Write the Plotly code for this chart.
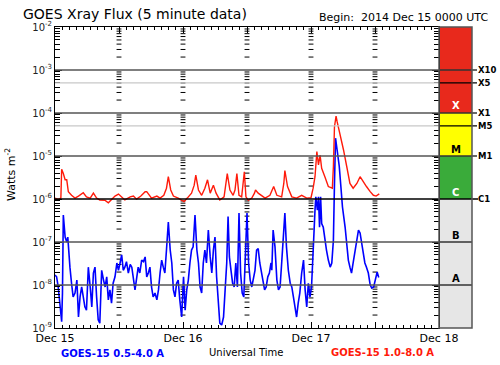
import math
import plotly.graph_objects as go

# ---------------- data (hours since 2014 Dec 15 00:00 UTC, flux in W m^-2) ----------------
long_hours = [0, 0.6, 1.1, 1.25, 1.56, 1.9, 2.2, 2.5, 3.1, 3.75, 4.4, 5.3, 5.9, 6.6, 7.2, 7.8, 8.4, 9.4,
              10.0, 10.6, 11.25, 11.9, 12.5, 13.1, 14.1, 14.7, 15.3, 16.1, 16.9, 17.2, 18.1, 19.1, 19.7,
              20.4, 20.9, 21.25, 21.7, 22.2, 23.1, 23.75, 24.2, 24.8, 25.6, 26.1, 26.4, 26.9, 27.5, 28.1,
              28.6, 29.1, 29.7, 30.2, 30.9, 31.7, 32.1, 32.3, 32.8, 33.4, 33.75, 34.1, 34.5, 35.0, 35.5,
              35.8, 36.25, 36.9, 37.4, 37.6, 38.1, 38.6, 39.4, 40.3, 41.0, 41.6, 42.5, 42.9, 43.1, 43.6,
              44.4, 45.3, 46.25, 47.2, 48.0, 48.4, 48.75, 49.1, 49.4, 49.7, 50.0, 50.6, 51.25, 52.0, 52.2,
              52.4, 52.7, 52.9, 53.4, 54.1, 54.7, 55.3, 55.9, 56.6, 57.2, 57.8, 58.4, 59.1, 59.7, 60.2, 60.8]
long_flux = [1.05e-6, 9.8e-7, 1.05e-6, 4.9e-6, 3.9e-6, 2.8e-6, 2.8e-6, 1.48e-6, 1.22e-6, 1.05e-6, 1.17e-6,
             1.4e-6, 1.12e-6, 1.05e-6, 1.37e-6, 1.05e-6, 9.5e-7, 9.3e-7, 8.2e-7, 9.5e-7, 1.17e-6, 1.3e-6,
             1.12e-6, 9.5e-7, 1.12e-6, 1.17e-6, 9.9e-7, 1.17e-6, 1.48e-6, 1.48e-6, 1.05e-6, 1.17e-6, 1.05e-6,
             1.22e-6, 1.78e-6, 3.3e-6, 1.62e-6, 1.17e-6, 1.05e-6, 9.3e-7, 8.7e-7, 1.05e-6, 1.37e-6, 2.1e-6,
             3.6e-6, 1.62e-6, 1.22e-6, 1.78e-6, 2.8e-6, 1.37e-6, 2.1e-6, 1.37e-6, 9.5e-7, 1.12e-6, 2.3e-6,
             3.9e-6, 1.62e-6, 1.22e-6, 1.62e-6, 3.9e-6, 1.22e-6, 1.12e-6, 4.3e-6, 1.12e-6, 9.3e-7, 1.05e-6,
             1.37e-6, 1.62e-6, 1.37e-6, 1.22e-6, 1.05e-6, 1.22e-6, 1.95e-6, 1.22e-6, 1.12e-6, 2.3e-6, 4.6e-6,
             1.95e-6, 1.12e-6, 1.05e-6, 1.22e-6, 1.05e-6, 1.07e-6, 1.78e-6, 3.3e-6, 1.27e-5, 6.2e-6, 1.05e-5,
             5.2e-6, 3.3e-6, 1.95e-6, 1.78e-6, 5.7e-6, 4.8e-5, 8.5e-5, 6.3e-5, 3.4e-5, 1.38e-5, 5.7e-6,
             2.3e-6, 1.78e-6, 2.3e-6, 3.3e-6, 2.5e-6, 1.95e-6, 1.48e-6, 1.22e-6, 1.17e-6, 1.32e-6]

short_hours = [0, 0.3, 0.6, 0.95, 1.25, 1.4, 1.56, 1.9, 2.2, 2.4, 2.6, 2.8, 3.1, 3.4, 3.75, 4.1, 4.4, 4.7,
               5.0, 5.3, 5.6, 5.9, 6.25, 6.6, 6.9, 7.2, 7.5, 7.8, 8.1, 8.4, 8.75, 9.1, 9.4, 9.7, 10.0, 10.3,
               10.6, 10.9, 11.25, 11.6, 11.9, 12.2, 12.5, 12.8, 13.1, 13.4, 13.75, 14.1, 14.4, 15.0, 15.3,
               15.6, 15.9, 16.25, 16.6, 16.9, 17.2, 17.5, 17.8, 18.1, 18.4, 18.75, 19.1, 19.4, 19.7, 20.0,
               20.3, 20.6, 20.9, 21.25, 21.6, 21.9, 22.2, 22.5, 22.8, 23.1, 23.4, 23.75, 24.1, 24.4, 24.7,
               25.0, 25.3, 25.6, 25.9, 26.25, 26.6, 26.9, 27.2, 27.5, 27.8, 28.1, 28.4, 28.75, 29.1, 29.4,
               29.7, 30.0, 30.3, 30.6, 30.9, 31.25, 31.6, 31.9, 32.2, 32.45, 32.7, 33.0, 33.3, 33.6, 33.9,
               34.2, 34.5, 34.8, 35.1, 35.4, 35.7, 36.0, 36.3, 36.6, 36.9, 37.2, 37.5, 37.8, 38.1, 38.4,
               38.7, 39.0, 39.3, 39.6, 39.9, 40.2, 40.5, 40.65, 40.9, 41.25, 41.6, 41.9, 42.2, 42.5, 42.8,
               43.1, 43.4, 43.75, 44.1, 44.4, 44.7, 45.0, 45.3, 45.6, 45.9, 46.25, 46.6, 46.9, 47.2, 47.5,
               47.8, 48.1, 48.4, 48.75, 48.9, 49.2, 49.4, 49.6, 49.8, 50.0, 50.3, 50.6, 50.9, 51.25, 51.6,
               51.9, 52.2, 52.4, 52.6, 52.9, 53.3, 53.6, 53.9, 54.4, 54.7, 55.0, 55.3, 55.6, 55.9, 56.25,
               56.6, 56.9, 57.2, 57.5, 57.8, 58.1, 58.4, 58.75, 59.1, 59.4, 59.75, 60.1, 60.4, 60.7]
short_flux = [1.7e-8, 1.55e-8, 9e-9, 2.6e-9, 1.4e-9, 6.5e-9, 4.25e-7, 1.3e-7, 1.0e-7, 1.3e-7, 4.5e-8, 2.6e-8,
              1.1e-8, 5.3e-9, 6.5e-9, 1.3e-8, 1.8e-9, 5.3e-9, 9e-9, 5.3e-9, 3.1e-9, 2.6e-9, 2.6e-8, 9e-9,
              3.1e-9, 1.9e-8, 2.6e-8, 5.3e-9, 1.55e-9, 1.3e-9, 2.2e-8, 1.3e-8, 9e-9, 1.55e-8, 4.5e-9, 7.7e-9,
              3.8e-9, 1.1e-8, 1.55e-8, 3.25e-8, 2.2e-8, 3.25e-8, 5e-8, 2.2e-8, 2.6e-8, 3.5e-8, 1.9e-8, 3e-8,
              2.6e-8, 7.7e-9, 1.3e-8, 2.6e-8, 1.9e-8, 3.8e-8, 3.5e-8, 4.5e-8, 1.55e-8, 1.9e-8, 2.6e-8, 9e-9,
              5.3e-9, 6.5e-9, 4.5e-9, 7.7e-9, 1.9e-8, 3.8e-8, 2.6e-8, 1.9e-8, 6.5e-8, 2.9e-7, 6.5e-8, 3.25e-8,
              7.7e-9, 5.3e-9, 1.1e-8, 1.3e-8, 4.5e-9, 1.8e-9, 1.55e-8, 2.6e-9, 7.7e-9, 1.3e-8, 3.25e-8,
              6.5e-8, 7.7e-8, 4.25e-7, 6.5e-8, 3.25e-8, 9e-9, 6.5e-9, 3.25e-8, 6.5e-8, 3.25e-8, 1.9e-7, 4.5e-8,
              1.9e-8, 6.5e-8, 1.3e-7, 1.55e-8, 4.5e-9, 1.3e-9, 1.17e-9, 1.8e-9, 7.7e-9, 3.25e-8, 3.9e-7,
              4.5e-8, 2.2e-8, 1.1e-8, 9e-9, 3.25e-8, 9e-9, 4.7e-7, 1.9e-8, 6.5e-9, 5.3e-9, 6.5e-8, 4.7e-7,
              3.25e-8, 1.3e-8, 9e-9, 1.55e-8, 2.2e-8, 6.5e-8, 7e-8, 3.25e-8, 1.9e-8, 1.1e-8, 7.7e-9, 9e-9,
              1.55e-8, 1.9e-8, 3.25e-8, 2.2e-8, 1.9e-7, 7.7e-8, 1.3e-8, 7.7e-9, 9e-9, 3.25e-8, 1.1e-7, 4.7e-7,
              7.7e-8, 2.2e-8, 1.1e-8, 9e-9, 5.3e-9, 3.1e-9, 1.8e-9, 3.8e-9, 6.5e-9, 1.9e-8, 3.8e-8, 7.7e-9,
              3.1e-9, 1.1e-8, 5.3e-9, 9e-9, 9.5e-8, 5.5e-7, 1.12e-6, 5.5e-7, 1.12e-6, 2.2e-7, 1.12e-6, 2.7e-7,
              2.2e-7, 1.1e-7, 6.5e-8, 3.8e-8, 2.6e-8, 3.25e-8, 1.1e-7, 2.3e-6, 2.6e-5, 1.38e-5, 5.7e-6, 1.95e-6,
              6.5e-7, 2.2e-7, 7.7e-8, 3.8e-8, 2.6e-8, 1.9e-8, 3.25e-8, 6.5e-8, 1.1e-7, 1.9e-7, 1.62e-7, 9.5e-8,
              5.5e-8, 3.25e-8, 2.6e-8, 1.9e-8, 1e-8, 8.5e-9, 9e-9, 1.3e-8, 2e-8, 1.5e-8]

day_ticks = [0, 12, 24, 36, 48, 60, 72]
day_labels = ["Dec 15", "", "Dec 16", "", "Dec 17", "", "Dec 18"]
decade_exps = [-9, -8, -7, -6, -5, -4, -3, -2]
class_levels = [1e-3, 5e-4, 1e-4, 5e-5, 1e-5, 1e-6]
class_names = ["X10", "X5", "X1", "M5", "M1", "C1"]
band_letters = ["X", "M", "C", "B", "A"]
band_bottoms = [1e-4, 1e-5, 1e-6, 1e-7, 1e-8]
band_letter_colors = ["white", "black", "white", "black", "black"]

# ---------------- geometry helpers ----------------
W, H = 500, 365
ML, MR, MT, MB = 55, 28, 27, 37
PW = W - ML - MR
PH = H - MT - MB
XD = 384 / PW          # plot-area right edge in paper coords
YMIN, YMAX = -9, -2


def py(v):
    return (math.log10(v) - YMIN) / (YMAX - YMIN)


def pxl(px):  # pixel x -> paper
    return (px - ML) / PW


def pyl(pyx):  # pixel y -> paper
    return (H - MB - pyx) / PH


fig = go.Figure()

# tick columns every 12 h inside the plot
minor_vals = [m * 10 ** e for e in range(YMIN, YMAX) for m in range(2, 10)]
col_x, col_y = [], []
for t in day_ticks[1:-1]:
    for v in minor_vals:
        col_x.append(t)
        col_y.append(v)
fig.add_trace(go.Scatter(x=col_x, y=col_y, mode="markers", hoverinfo="skip",
                         marker=dict(symbol="line-ew", size=3.5, line=dict(color="black", width=1))))

fig.add_trace(go.Scatter(x=short_hours, y=short_flux, mode="lines",
                         line=dict(color="#0000ff", width=1.6), name="GOES-15 0.5-4.0 A"))
fig.add_trace(go.Scatter(x=long_hours, y=long_flux, mode="lines",
                         line=dict(color="#ff1a0a", width=1.4), name="GOES-15 1.0-8.0 A"))

shapes = []
# colour bar bands
bands = [(1e-4, 1e-2, "#e8291c"), (1e-5, 1e-4, "#ffff00"), (1e-6, 1e-5, "#3aab3a"), (1e-9, 1e-6, "#e6e6e6")]
for lo, hi, col in bands:
    shapes.append(dict(type="rect", xref="paper", yref="paper", x0=XD, x1=1.0, y0=py(lo), y1=py(hi),
                       fillcolor=col, line=dict(width=0), layer="below"))
# decade grid lines
for e in [-8, -7, -5, -4, -3]:
    yv = py(10 ** e)
    shapes.append(dict(type="line", xref="paper", yref="paper", x0=0, x1=XD, y0=yv, y1=yv,
                       line=dict(color="#555555", width=1.5)))
    ext = 1.0 if e in (-8, -7) else pxl(477)
    shapes.append(dict(type="line", xref="paper", yref="paper", x0=XD, x1=ext, y0=yv, y1=yv,
                       line=dict(color="#333333", width=1.5)))
yv = py(1e-6)
shapes.append(dict(type="line", xref="paper", yref="paper", x0=0, x1=pxl(478), y0=yv, y1=yv,
                   line=dict(color="black", width=1.3)))
for v in (5e-4, 5e-5):
    yv = py(v)
    shapes.append(dict(type="line", xref="paper", yref="paper", x0=0, x1=XD, y0=yv, y1=yv,
                       line=dict(color="#c8c8c8", width=1.2)))
    shapes.append(dict(type="line", xref="paper", yref="paper", x0=XD, x1=pxl(477), y0=yv, y1=yv,
                       line=dict(color="black", width=1.2)))
shapes.append(dict(type="rect", xref="paper", yref="paper", x0=XD, x1=1.0, y0=0, y1=1,
                   line=dict(color="#555555", width=1.5), fillcolor="rgba(0,0,0,0)"))

ann = []
for lvl, name in zip(class_levels, class_names):
    ann.append(dict(xref="paper", yref="paper", x=pxl(477), y=py(lvl), xanchor="left", yanchor="middle",
                    text="<b>" + name + "</b>", showarrow=False, borderpad=0,
                    font=dict(family="DejaVu Sans", size=8.5, color="black")))
for letter, bot, col in zip(band_letters, band_bottoms, band_letter_colors):
    ann.append(dict(xref="paper", yref="paper", x=pxl(455.5), y=py(bot) + 7 / PH, xanchor="center",
                    yanchor="middle", text="<b>" + letter + "</b>", showarrow=False,
                    font=dict(family="DejaVu Sans", size=10, color=col)))

ann.append(dict(xref="paper", yref="paper", x=pxl(135), y=pyl(14), xanchor="center", yanchor="middle",
                text="GOES Xray Flux (5 minute data)", showarrow=False,
                font=dict(family="DejaVu Sans", size=14, color="black")))
ann.append(dict(xref="paper", yref="paper", x=pxl(317), y=pyl(17), xanchor="left", yanchor="middle",
                text="Begin:  2014 Dec 15 0000 UTC", showarrow=False,
                font=dict(family="DejaVu Sans", size=11, color="black")))
ann.append(dict(xref="paper", yref="paper", x=pxl(10), y=pyl(175), xanchor="center", yanchor="middle",
                text="Watts m<sup>-2</sup>", textangle=-90, showarrow=False,
                font=dict(family="DejaVu Sans", size=11, color="black")))
ann.append(dict(xref="paper", yref="paper", x=pxl(112), y=pyl(353), xanchor="center", yanchor="middle",
                text="<b>GOES-15 0.5-4.0 A</b>", showarrow=False,
                font=dict(family="DejaVu Sans", size=10, color="#0000ff")))
ann.append(dict(xref="paper", yref="paper", x=pxl(246), y=pyl(352), xanchor="center", yanchor="middle",
                text="Universal Time", showarrow=False,
                font=dict(family="DejaVu Sans", size=10, color="black")))
ann.append(dict(xref="paper", yref="paper", x=pxl(382), y=pyl(352), xanchor="center", yanchor="middle",
                text="<b>GOES-15 1.0-8.0 A</b>", showarrow=False,
                font=dict(family="DejaVu Sans", size=10, color="#ff1a0a")))
ann.append(dict(xref="paper", yref="paper", x=pxl(0), y=pyl(369), xanchor="left", yanchor="middle",
                text="Updated 2014 Dec 17 17:00:44 UTC", showarrow=False,
                font=dict(family="DejaVu Sans", size=10, color="black")))
ann.append(dict(xref="paper", yref="paper", x=pxl(333), y=pyl(369), xanchor="left", yanchor="middle",
                text="NOAA/SWPC Boulder, CO USA", showarrow=False,
                font=dict(family="DejaVu Sans", size=10, color="black")))

fig.update_layout(
    width=W, height=H, margin=dict(l=ML, r=MR, t=MT, b=MB, pad=0, autoexpand=False),
    plot_bgcolor="white", paper_bgcolor="white", showlegend=False,
    font=dict(family="DejaVu Sans", size=11, color="black"),
    shapes=shapes, annotations=ann,
    xaxis=dict(domain=[0, XD], range=[0, 72], tickvals=day_ticks, ticktext=day_labels,
               ticks="inside", ticklen=6, tickcolor="black", showline=True, linecolor="black",
               linewidth=1, mirror="allticks", showgrid=False, zeroline=False, automargin=False,
               tickfont=dict(size=11), fixedrange=True,
               minor=dict(dtick=4 / 3, tick0=0, ticks="inside", ticklen=3, tickcolor="black",
                          showgrid=False)),
    yaxis=dict(type="log", range=[YMIN, YMAX], tickvals=[10 ** e for e in decade_exps],
               ticktext=["10<sup>%d</sup>" % e for e in decade_exps],
               ticks="inside", ticklen=7, tickcolor="black", showline=True, linecolor="black",
               linewidth=1, mirror="allticks", showgrid=False, zeroline=False, automargin=False,
               tickfont=dict(size=10, color="#222222"), fixedrange=True,
               minor=dict(dtick="D1", ticks="inside", ticklen=5, tickcolor="black", showgrid=False)),
)

fig.write_html("out.html", config={"displayModeBar": False},
               post_script="document.body.style.margin='0';document.body.style.padding='0';")
